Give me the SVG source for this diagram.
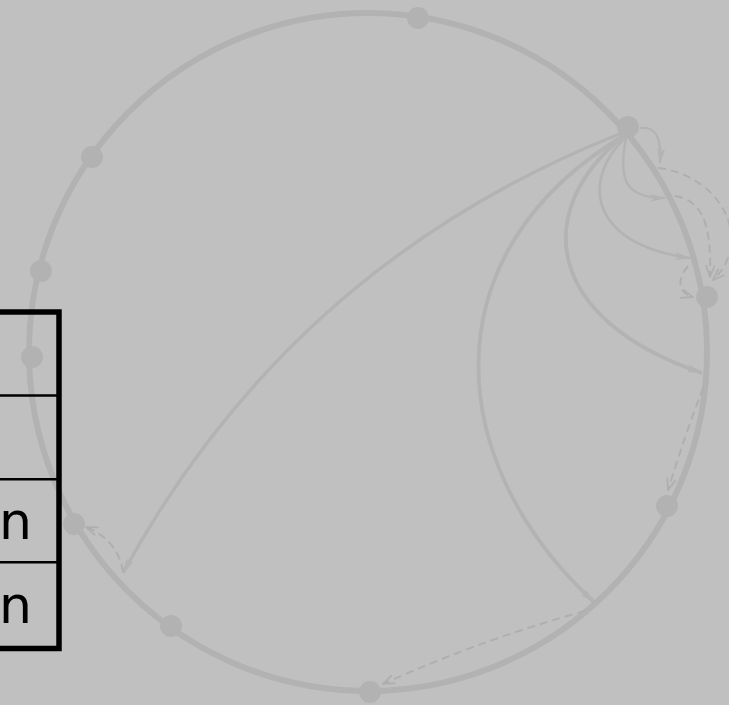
<svg xmlns="http://www.w3.org/2000/svg" width="729" height="705" viewBox="0 0 729 705">
<defs>
<style>
.ring{fill:none;stroke:#b2b2b2;stroke-width:6}
.node{fill:#b2b2b2}
.e{fill:none;stroke:#b3b3b3}
.d{fill:none;stroke:#afafaf;stroke-width:2;stroke-dasharray:8 5}
.tb{fill:none;stroke:#000}
.lbl{font-family:"DejaVu Sans",sans-serif;font-size:52px;fill:#000}
</style>
<marker id="ah" viewBox="0 0 16 8" refX="15" refY="4" markerWidth="16" markerHeight="8" markerUnits="userSpaceOnUse" orient="auto">
<path d="M0,0 L16,4 L0,8 L4,4 z" fill="#b3b3b3"/>
</marker>
<marker id="av" viewBox="0 0 13 10" refX="12" refY="5" markerWidth="13" markerHeight="10" markerUnits="userSpaceOnUse" orient="auto">
<path d="M0,0.5 L12,5 L0,9.5" fill="none" stroke="#afafaf" stroke-width="1.8"/>
</marker>
</defs>
<rect width="729" height="705" fill="#c0c0c0"/>
<circle class="ring" cx="368" cy="352" r="339"/>
<g id="connectors">
<path class="e" stroke-width="3.4" marker-end="url(#ah)" d="M622,133 Q292,263 123,573"/>
<path class="e" stroke-width="3.8" marker-end="url(#ah)" d="M625,135 C430,250 440,460 594,602"/>
<path class="e" stroke-width="3.8" marker-end="url(#ah)" d="M625,135 C530,210 545,320 702,373"/>
<path class="e" stroke-width="2.6" marker-end="url(#ah)" d="M626,137 C580,180 590,245 690,258"/>
<path class="e" stroke-width="2.4" marker-end="url(#ah)" d="M626,138 C618,180 625,198 665,198"/>
<path class="e" stroke-width="2.2" marker-end="url(#ah)" d="M640,128 C655,126 662,137 660,163"/>
<path class="d" marker-end="url(#av)" d="M658,168 C720,175 755,240 713,280"/>
<path class="d" marker-end="url(#av)" d="M675,196 C700,200 712,220 710,277"/>
<path class="d" marker-end="url(#av)" d="M688,266 C678,278 676,292 693,297"/>
<path class="d" marker-end="url(#av)" d="M703,388 Q685,435 668,490"/>
<path class="d" marker-end="url(#av)" d="M585,611 Q480,640 383,684"/>
<path class="d" marker-end="url(#av)" d="M123,572 Q118,540 86,527"/>
</g>
<g id="n0"><circle class="node" cx="418" cy="18" r="11"/></g>
<g id="n1"><circle class="node" cx="628" cy="127" r="11"/></g>
<g id="n2"><circle class="node" cx="707" cy="297" r="11"/></g>
<g id="n3"><circle class="node" cx="667" cy="506" r="11"/></g>
<g id="n4"><circle class="node" cx="370" cy="692" r="11"/></g>
<g id="n5"><circle class="node" cx="171" cy="626" r="11"/></g>
<g id="n6"><circle class="node" cx="74" cy="524" r="11"/></g>
<g id="n7"><circle class="node" cx="32" cy="357" r="11"/></g>
<g id="n8"><circle class="node" cx="41" cy="271" r="11"/></g>
<g id="n9"><circle class="node" cx="92" cy="157" r="11"/></g>
<g id="table">
<rect class="tb" x="-10" y="312" width="69" height="336.5" stroke-width="5.5"/>
<line class="tb" x1="0" y1="395.5" x2="59" y2="395.5" stroke-width="2.4"/>
<line class="tb" x1="0" y1="479.3" x2="59" y2="479.3" stroke-width="2.4"/>
<line class="tb" x1="0" y1="562.2" x2="59" y2="562.2" stroke-width="2.4"/>
<text class="lbl" x="-1" y="539">n</text>
<text class="lbl" x="-1" y="622.5">n</text>
</g>
</svg>
